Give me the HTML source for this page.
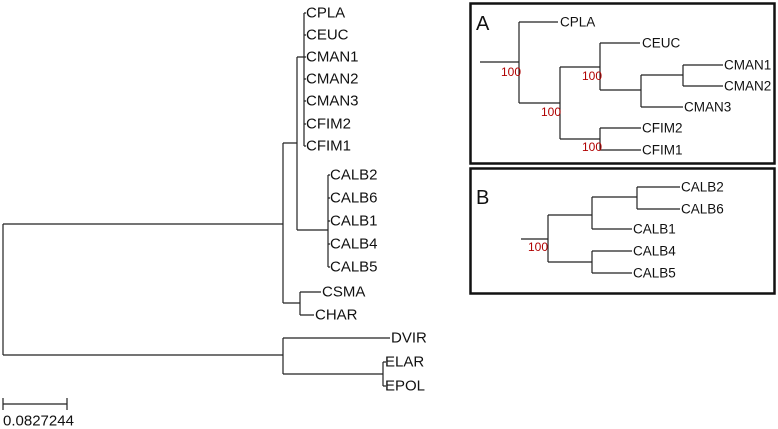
<!DOCTYPE html>
<html><head><meta charset="utf-8"><style>
html,body{margin:0;padding:0;background:#fff}
svg{display:block}
text{font-family:"Liberation Sans",sans-serif}
.l text{font-size:15px;fill:#111;dominant-baseline:central}
.b text{font-size:13.5px;fill:#111;dominant-baseline:central}
.r text{font-size:12px;fill:#b00000;dominant-baseline:central}
</style></head><body>
<svg width="778" height="429" viewBox="0 0 778 429" xmlns="http://www.w3.org/2000/svg">
<g stroke="#222" stroke-width="1.2" fill="none">
<path d="M3,224V355M3,224H283M3,355H283"/>
<path d="M283,338V374M283,338H390M283,374H383M383,362V386M383,362H386M383,386H386"/>
<path d="M283,143V303M283,143H297M283,303H300"/>
<path d="M297,57V230M297,57H304M297,230H328"/>
<path d="M304,13V146M304,13H306M304,35H306M304,57H306M304,79H306M304,101H306M304,124H306M304,146H306"/>
<path d="M328,175V267M328,175H330M328,198H330M328,221H330M328,244H330M328,267H330"/>
<path d="M300,292V315M300,292H321M300,315H314"/>
<path d="M3,404H67M3,398V410M67,398V410"/>
<path d="M480,62H519M519,22V103M519,22H558M519,103H560M560,67V139M560,67H600M600,43V90M600,43H640M600,90H641M641,75V107M641,75H683M683,65V86M683,65H723M683,86H723M641,107H683M560,139H600M600,128V150M600,128H641M600,150H641"/>
<path d="M521,239H548M548,215V262M548,215H592M592,197V229M592,197H637M637,187V209M637,187H680M637,209H680M592,229H632M548,262H592M592,251V273M592,251H632M592,273H632"/>
</g>
<rect x="470.5" y="3.5" width="304" height="160" fill="none" stroke="#111" stroke-width="2.5"/>
<rect x="470.5" y="168.5" width="304" height="125" fill="none" stroke="#111" stroke-width="2.5"/>
<g class="l">
<text x="306" y="13">CPLA</text><text x="306" y="35">CEUC</text><text x="306" y="57">CMAN1</text>
<text x="306" y="79">CMAN2</text><text x="306" y="101">CMAN3</text><text x="306" y="124">CFIM2</text>
<text x="306" y="146">CFIM1</text>
<text x="330" y="175">CALB2</text><text x="330" y="198">CALB6</text><text x="330" y="221">CALB1</text>
<text x="330" y="244">CALB4</text><text x="330" y="267">CALB5</text>
<text x="322" y="292">CSMA</text><text x="315" y="315">CHAR</text>
<text x="391" y="338">DVIR</text><text x="385" y="362">ELAR</text><text x="385" y="386">EPOL</text>
<text x="3" y="421">0.0827244</text>
</g>
<text x="476" y="30" style="font-size:20px;fill:#111">A</text>
<text x="476" y="204" style="font-size:20px;fill:#111">B</text>
<g class="b">
<text x="560" y="22">CPLA</text><text x="642" y="43">CEUC</text><text x="724" y="65">CMAN1</text>
<text x="724" y="86">CMAN2</text><text x="684" y="107">CMAN3</text><text x="642" y="128">CFIM2</text>
<text x="642" y="150">CFIM1</text>
<text x="681" y="187">CALB2</text><text x="681" y="209">CALB6</text><text x="633" y="229">CALB1</text>
<text x="633" y="251">CALB4</text><text x="633" y="273">CALB5</text>
</g>
<g class="r">
<text x="501" y="72">100</text><text x="582" y="76">100</text><text x="541" y="112">100</text>
<text x="582" y="147">100</text><text x="528" y="247">100</text>
</g>
</svg>
</body></html>
